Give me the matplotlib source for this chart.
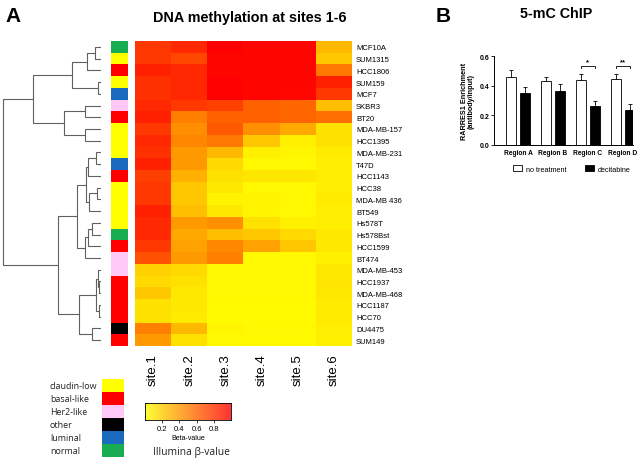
import numpy as np
import matplotlib
matplotlib.use("Agg")
import matplotlib.pyplot as plt
from matplotlib.colors import LinearSegmentedColormap, ListedColormap
from matplotlib.patches import Patch
import matplotlib.transforms as mtransforms

plt.rcParams['font.family'] = ['Liberation Sans', 'DejaVu Sans']

# ---------------- data: panel A ----------------
cell_lines = ["MCF10A", "SUM1315", "HCC1806", "SUM159", "MCF7", "SKBR3", "BT20",
              "MDA-MB-157", "HCC1395", "MDA-MB-231", "T47D", "HCC1143", "HCC38",
              "MDA-MB 436", "BT549", "Hs578T", "Hs578Bst", "HCC1599", "BT474",
              "MDA-MB-453", "HCC1937", "MDA-MB-468", "HCC1187", "HCC70", "DU4475", "SUM149"]
sites = ["site.1", "site.2", "site.3", "site.4", "site.5", "site.6"]
site1 = [0.78, 0.78, 0.87, 0.81, 0.81, 0.84, 0.87, 0.78, 0.84, 0.81, 0.87, 0.75, 0.78,
         0.78, 0.87, 0.84, 0.84, 0.78, 0.69, 0.18, 0.15, 0.22, 0.12, 0.12, 0.50, 0.40]
site2 = [0.84, 0.72, 0.84, 0.84, 0.84, 0.78, 0.50, 0.44, 0.47, 0.40, 0.40, 0.31, 0.22,
         0.22, 0.25, 0.40, 0.34, 0.37, 0.40, 0.15, 0.12, 0.09, 0.09, 0.08, 0.28, 0.12]
site3 = [1.00, 0.98, 0.98, 0.99, 0.99, 0.75, 0.62, 0.65, 0.53, 0.28, 0.15, 0.12, 0.09,
         0.05, 0.09, 0.44, 0.25, 0.47, 0.50, 0.03, 0.03, 0.03, 0.02, 0.02, 0.04, 0.03]
site4 = [0.98, 0.98, 0.98, 0.98, 0.98, 0.62, 0.62, 0.44, 0.22, 0.06, 0.03, 0.10, 0.03,
         0.05, 0.04, 0.12, 0.22, 0.37, 0.03, 0.03, 0.03, 0.03, 0.02, 0.02, 0.03, 0.02]
site5 = [0.98, 0.98, 0.98, 0.98, 0.97, 0.60, 0.60, 0.34, 0.06, 0.04, 0.03, 0.10, 0.03,
         0.03, 0.03, 0.06, 0.15, 0.22, 0.03, 0.03, 0.03, 0.03, 0.02, 0.02, 0.03, 0.02]
site6 = [0.28, 0.22, 0.53, 0.87, 0.78, 0.25, 0.56, 0.12, 0.12, 0.08, 0.07, 0.07, 0.07,
         0.08, 0.07, 0.07, 0.09, 0.09, 0.06, 0.09, 0.10, 0.09, 0.08, 0.08, 0.07, 0.06]

subtype_names = ["claudin-low", "basal-like", "Her2-like", "other", "luminal", "normal"]
subtype_colors = ["#FFFF00", "#FF0000", "#FFC8F6", "#000000", "#1A6BC0", "#19AD52"]
row_subtype = [5, 0, 1, 0, 4, 2, 1, 0, 0, 0, 4, 1, 0, 0, 0, 0, 5, 1, 2, 2, 1, 1, 1, 1, 3, 1]

# dendrogram merges (child a, child b, height); indices >= 26 refer to earlier merges
merges = [
    (0, 1, 6), (26, 2, 14), (3, 4, 3.3), (27, 28, 29), (5, 6, 16), (7, 8, 16),
    (30, 31, 37), (29, 32, 68), (9, 10, 5), (34, 11, 13), (12, 13, 4), (36, 14, 12),
    (35, 37, 15), (15, 16, 9), (39, 17, 12.5), (40, 18, 16), (38, 41, 24),
    (20, 21, 2), (19, 43, 3), (22, 23, 1.5), (44, 45, 4.5), (24, 25, 9),
    (46, 47, 22), (42, 48, 43), (33, 49, 98.3),
]

cbar_ticks = [0.2, 0.4, 0.6, 0.8]

# ---------------- data: panel B ----------------
regions = ["Region A", "Region B", "Region C", "Region D"]
no_treatment = [0.460, 0.430, 0.436, 0.442]
no_treatment_err = [0.044, 0.029, 0.045, 0.040]
decitabine = [0.353, 0.367, 0.263, 0.234]
decitabine_err = [0.040, 0.046, 0.036, 0.044]
b_yticks = [0.0, 0.2, 0.4, 0.6]

# ---------------- figure ----------------
W, H = 639, 464
fig = plt.figure(figsize=(W / 100, H / 100), dpi=100)


def ax_px(l, t, r, b):
    return fig.add_axes([l / W, 1 - b / H, (r - l) / W, (b - t) / H])


cmap = LinearSegmentedColormap.from_list("heat", ["#FFFF00", "#FF0000"])
values = np.array([site1, site2, site3, site4, site5, site6]).T
n = len(cell_lines)

# heatmap
axh = ax_px(135, 42, 352, 347)
axh.imshow(values, cmap=cmap, vmin=0, vmax=1, aspect='auto', interpolation='nearest')
for s in axh.spines.values():
    s.set_visible(False)
axh.yaxis.tick_right()
axh.set_yticks(range(n))
axh.set_yticklabels(cell_lines, fontsize=5.5)
axh.set_xticks(range(len(sites)))
axh.set_xticklabels(sites, rotation=90, fontsize=9.5, va='top')
axh.tick_params(length=0, pad=3)
axh.tick_params(axis='x', pad=5)

# side color bar
axs = ax_px(111, 42, 128, 347)
axs.imshow(np.array(row_subtype)[:, None], cmap=ListedColormap(subtype_colors),
           vmin=-0.5, vmax=len(subtype_colors) - 0.5, aspect='auto', interpolation='nearest')
axs.axis('off')

# dendrogram
axd = ax_px(2, 42, 101, 347)
pos = {i: (float(i), 0.0) for i in range(n)}
for k, (a, b, h) in enumerate(merges):
    ya, ha = pos[a]
    yb, hb = pos[b]
    axd.plot([ha, h, h, hb], [ya, ya, yb, yb], color='#606060', lw=0.8,
             solid_joinstyle='miter', solid_capstyle='butt')
    pos[n + k] = ((ya + yb) / 2, h)
axd.set_ylim(n - 0.5, -0.5)
axd.set_xlim(99, 0)
axd.axis('off')

# subtype legend
axl = ax_px(102, 380, 124, 458)
axl.imshow(np.arange(len(subtype_colors))[:, None], cmap=ListedColormap(subtype_colors),
           aspect='auto', interpolation='nearest')
axl.axis('off')
trans = mtransforms.blended_transform_factory(fig.transFigure, axl.transData)
for i, name in enumerate(subtype_names):
    axl.text(50 / W, i, name, transform=trans, ha='left', va='center',
             fontsize=6.4, family='Open Sans', color='#222222')

# color key
axc = ax_px(145, 404, 231, 421)
grad = np.linspace(0, 1, 256)[None, :]
axc.imshow(grad, cmap=cmap, alpha=0.8, aspect='auto', extent=[0, 1, 0, 1])
axc.set_xlim(0, 1)
axc.set_yticks([])
axc.set_xticks(cbar_ticks)
axc.set_xticklabels([f"{t:.1f}" for t in cbar_ticks], fontsize=5.5)
axc.tick_params(axis='x', length=2, width=0.5, pad=1.5)
for s in axc.spines.values():
    s.set_linewidth(0.6)
axc.set_xlabel("Beta-value", fontsize=5, labelpad=1.5)
fig.text(153 / W, 1 - 453 / H, "Illumina β-value", fontsize=7.4, family='Open Sans',
         ha='left', va='center', color='#222222')

# titles panel A
fig.text(5 / W, 1 - 16 / H, "A", fontsize=15, fontweight='bold', ha='left', va='center')
fig.text(250 / W, 1 - 18 / H, "DNA methylation at sites 1-6", fontsize=10.4,
         fontweight='bold', ha='center', va='center')

# ---------------- panel B ----------------
axb = ax_px(494, 57, 633, 146)
x = np.arange(len(regions))
off, bw = 0.2, 0.28
axb.bar(x - off, no_treatment, bw, color='white', edgecolor='black', linewidth=0.6, zorder=2)
axb.bar(x + off, decitabine, bw, color='black', edgecolor='black', linewidth=0.6, zorder=2)
axb.errorbar(x - off, no_treatment, yerr=[np.zeros(4), no_treatment_err], fmt='none',
             ecolor='black', elinewidth=0.6, capsize=1.5, capthick=0.6, zorder=1)
axb.errorbar(x + off, decitabine, yerr=[np.zeros(4), decitabine_err], fmt='none',
             ecolor='black', elinewidth=0.6, capsize=1.5, capthick=0.6, zorder=1)
axb.set_ylim(0, 0.6)
axb.set_xlim(-0.686, 3.29)
axb.set_yticks(b_yticks)
axb.set_yticklabels([f"{t:.1f}" for t in b_yticks], fontsize=5, fontweight='bold')
axb.set_xticks(x)
axb.set_xticklabels(regions, fontsize=4.8, fontweight='bold')
axb.tick_params(axis='x', length=0, pad=3)
axb.tick_params(axis='y', length=2, width=0.6, pad=1.5)
axb.spines['top'].set_visible(False)
axb.spines['right'].set_visible(False)
axb.spines['left'].set_linewidth(0.7)
axb.spines['bottom'].set_linewidth(0.7)
axb.set_ylabel("RARRES1 Enrichment\n(antibody/input)", fontsize=5.2, fontweight='bold',
               labelpad=3, linespacing=1.1)

# significance brackets
sig = {2: "*", 3: "**"}
for i, star in sig.items():
    yb = 0.533
    axb.plot([i - off, i - off, i + off, i + off], [yb - 0.012, yb, yb, yb - 0.012],
             color='black', lw=0.6)
    axb.text(i, yb + 0.002, star, ha='center', va='bottom', fontsize=5.5, fontweight='bold')

fig.legend(handles=[Patch(facecolor='white', edgecolor='black', linewidth=0.6),
                    Patch(facecolor='black', edgecolor='black', linewidth=0.6)],
           labels=["no treatment", "decitabine"], ncol=2, loc='center',
           bbox_to_anchor=(572 / W, 1 - 170 / H), frameon=False, fontsize=5.2,
           handlelength=1.2, handleheight=0.8, columnspacing=2.6, handletextpad=0.6,
           borderpad=0.2, borderaxespad=0)

fig.text(436 / W, 1 - 16 / H, "B", fontsize=15, fontweight='bold', ha='left', va='center')
fig.text(556 / W, 1 - 14 / H, "5-mC ChIP", fontsize=10.3, fontweight='bold',
         ha='center', va='center')

fig.savefig("out.png", dpi=100)
